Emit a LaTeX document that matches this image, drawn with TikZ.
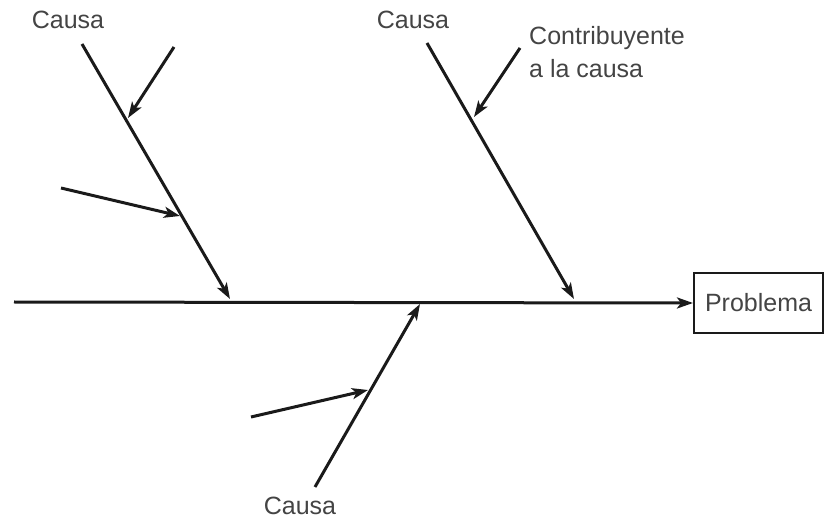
\documentclass[tikz,border=0pt]{standalone}
\usepackage{fontspec}
\setmainfont{Liberation Sans}
\usetikzlibrary{arrows.meta}
\definecolor{linec}{HTML}{1A1A1A}
\definecolor{textc}{HTML}{444444}
\tikzset{
  bone/.style={draw=linec, line width=3pt, -{Stealth[length=16pt,width=11pt,inset=4pt]}},
  lbl/.style={text=textc, font=\fontsize{25}{33}\selectfont, inner sep=0pt},
  probbox/.style={draw=linec, line width=2pt, minimum width=129pt, minimum height=60pt, text=textc, font=\fontsize{25}{28}\selectfont}
}
\begin{document}
\begin{tikzpicture}[x=1pt,y=-1pt]
\useasboundingbox (0,0) rectangle (825,521);
% problem box
\node[probbox] (prob) at (758.5,303) {Problema};
% spine
\coordinate (spineS) at (14,302);
\draw[bone] (spineS) -- (prob.west);
% bone ends on spine
\coordinate (b1e) at (230,299);
\coordinate (b2e) at (574,299);
\coordinate (b3e) at (420,304);
% bone starts
\coordinate (b1s) at (82,44);
\coordinate (b2s) at (427,43);
\coordinate (b3s) at (315,487);
\draw[bone] (b1s) -- (b1e);
\draw[bone] (b2s) -- (b2e);
\draw[bone] (b3s) -- (b3e);
% sub-causes
\coordinate (s1s) at (174,47);
\coordinate (s1e) at (128,118);
\coordinate (s2s) at (61,188);
\coordinate (s2e) at (180,216);
\coordinate (s3s) at (520,48);
\coordinate (s3e) at (474,117);
\coordinate (s4s) at (251,417);
\coordinate (s4e) at (368,390);
\draw[bone] (s1s) -- (s1e);
\draw[bone] (s2s) -- (s2e);
\draw[bone] (s3s) -- (s3e);
\draw[bone] (s4s) -- (s4e);
% labels
\node[lbl] (c1) at (68,20) {Causa};
\node[lbl] (c2) at (413,20) {Causa};
\node[lbl] (c3) at (300,506) {Causa};
\node[lbl, align=left, anchor=west] (contr) at (529,52) {Contribuyente\\a la causa};
\end{tikzpicture}
\end{document}
